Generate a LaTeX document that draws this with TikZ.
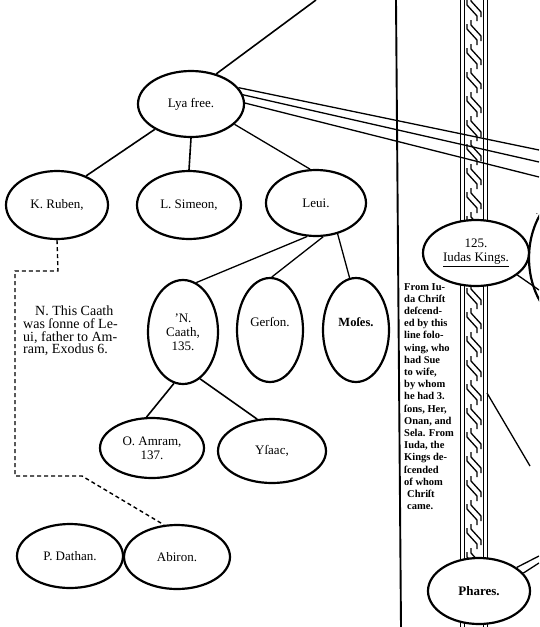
\documentclass[tikz,border=0pt]{standalone}
\usepackage{fontspec}
\setmainfont{Liberation Serif}
\usetikzlibrary{shapes.geometric}
\tikzset{
  ell/.style={draw, ellipse, line width=2.2pt, inner sep=0pt, align=center, font=\fontsize{13}{14}\selectfont},
  conn/.style={line width=1.6pt},
  thin/.style={line width=1.3pt},
  dashline/.style={line width=1.4pt, dash pattern=on 4pt off 3pt},
  band/.style={line width=1pt},
  twist/.style={line width=1.3pt, line join=round},
  note/.style={align=left, inner sep=0pt, font=\fontsize{14}{12.6}\selectfont},
  side/.style={align=left, inner sep=0pt, font=\bfseries\fontsize{10.5}{12.2}\selectfont},
}
\newcommand{\ovalnode}[6]{\node[ell, minimum width=#4pt, minimum height=#5pt] (#1) at (#2,#3) {#6};}
\begin{document}
\begin{tikzpicture}[x=1pt,y=-1pt]
\useasboundingbox (0,0) rectangle (539,627);
\clip (0,0) rectangle (539,627);
\fill[white] (0,0) rectangle (539,627);

% nodes
\ovalnode{lya}{191}{104}{106}{66}{Lya free.}
\ovalnode{ruben}{57}{205}{102}{68}{K. Ruben,}
\ovalnode{simeon}{189}{205}{104}{68}{L. Simeon,}
\ovalnode{leui}{316}{203}{100}{66}{Leui.}
\ovalnode{caath}{183}{332}{70}{104}{'N.\\Caath,\\135.}
\node[ell, minimum width=66pt, minimum height=104pt,
      label={[yshift=8pt, font=\fontsize{13}{14}\selectfont]center:Gerſon.}] (gerson) at (270,330) {};
\node[ell, minimum width=66pt, minimum height=104pt,
      label={[yshift=8pt, font=\bfseries\fontsize{12.5}{14}\selectfont]center:Moſes.}] (moses) at (356,330) {};
\ovalnode{amram}{152}{448}{104}{60}{O. Amram,\\137.}
\ovalnode{ysaac}{272}{451}{108}{64}{Yſaac,}
\ovalnode{dathan}{70}{556}{106}{64}{P. Dathan.}
\ovalnode{abiron}{177}{557}{106}{64}{Abiron.}
\ovalnode{judas}{476}{253}{106}{66}{125.\\\underline{Iudas Kings.}}
\ovalnode{phares}{479}{591}{102}{66}{\textbf{Phares.}}
\node[ell, minimum width=104pt, minimum height=140pt] (bigr) at (581,258) {};
\node[inner sep=0pt, font=\fontsize{9}{9}\selectfont] (frag) at (537,214) {.};

% free ends
\coordinate (topend) at (316,0);
\coordinate (ea) at (539,150);
\coordinate (eb) at (539,162);
\coordinate (ec) at (539,177);
\coordinate (ej) at (539,290);
\coordinate (eph1) at (539,556);
\coordinate (eph2) at (539,563);
\coordinate (dg1) at (487,393);
\coordinate (dg2) at (530,466);
\coordinate (vt) at (396,0);
\coordinate (vb) at (401,627);
\coordinate (d1) at (58,271);
\coordinate (d2) at (15,271);
\coordinate (d3) at (15,476);
\coordinate (d4) at (82,476);

% connectors
\draw[conn] (lya.50) -- (topend);
\draw[thin] (lya.19) -- (ea);
\draw[thin] (lya.10) -- (eb);
\draw[thin] (lya.1) -- (ec);
\draw[conn] (lya.-145) -- (ruben.45);
\draw[conn] (lya.-90) -- (simeon.90);
\draw[thin] (lya.-25) -- (leui.100);
\draw[thin] (leui.-105) -- (caath.75);
\draw[thin] (leui.-78) -- (gerson.88);
\draw[thin] (leui.-55) -- (moses.97);
\draw[conn] (caath.-100) -- (amram.100);
\draw[conn] (caath.-70) -- (ysaac.115);
\draw[dashline] (ruben.-90) -- (d1) -- (d2) -- (d3) -- (d4) -- (abiron.112);
\draw[thin] (judas.-28) -- (ej);
\draw[thin] (dg1) -- (dg2);
\draw[thin] (phares.32) -- (eph1);
\draw[thin] (phares.22) -- (eph2);
\draw[line width=1.9pt] (vt) -- (vb);

% the band (line of descent)
\foreach \ya/\yb in {0/221, 285/559, 623/627} {
  \foreach \x in {460,464,483,487} \draw[band] (\x,\ya) -- (\x,\yb);
}
\begin{scope}
\clip (465,0) rectangle (482,220) (465,286) rectangle (482,558);
\foreach \y in {-24,0,...,570} {
  \draw[twist] (467,\y) -- (467,\y+5) -- (477,\y+16) -- (477,\y+21);
  \draw[twist] (471,\y-4) -- (471,\y+1) -- (481,\y+12) -- (481,\y+17);
}
\end{scope}

% texts
\node[note, anchor=north west] (notetxt) at (23,306)
  {\hspace*{12pt}N. This Caath\\was ſonne of Le-\\ui, father to Am-\\ram, Exodus 6.};
\node[side, anchor=north west] (sidetxt) at (404,283)
  {From Iu-\\da Chriſt\\deſcend-\\ed by this\\line folo-\\wing, who\\had Sue\\to wife,\\by whom\\he had 3.\\ſons, Her,\\Onan, and\\Sela. From\\Iuda, the\\Kings de-\\ſcended\\of whom\\\hspace*{3pt}Chriſt\\\hspace*{3pt}came.};
\end{tikzpicture}
\end{document}
